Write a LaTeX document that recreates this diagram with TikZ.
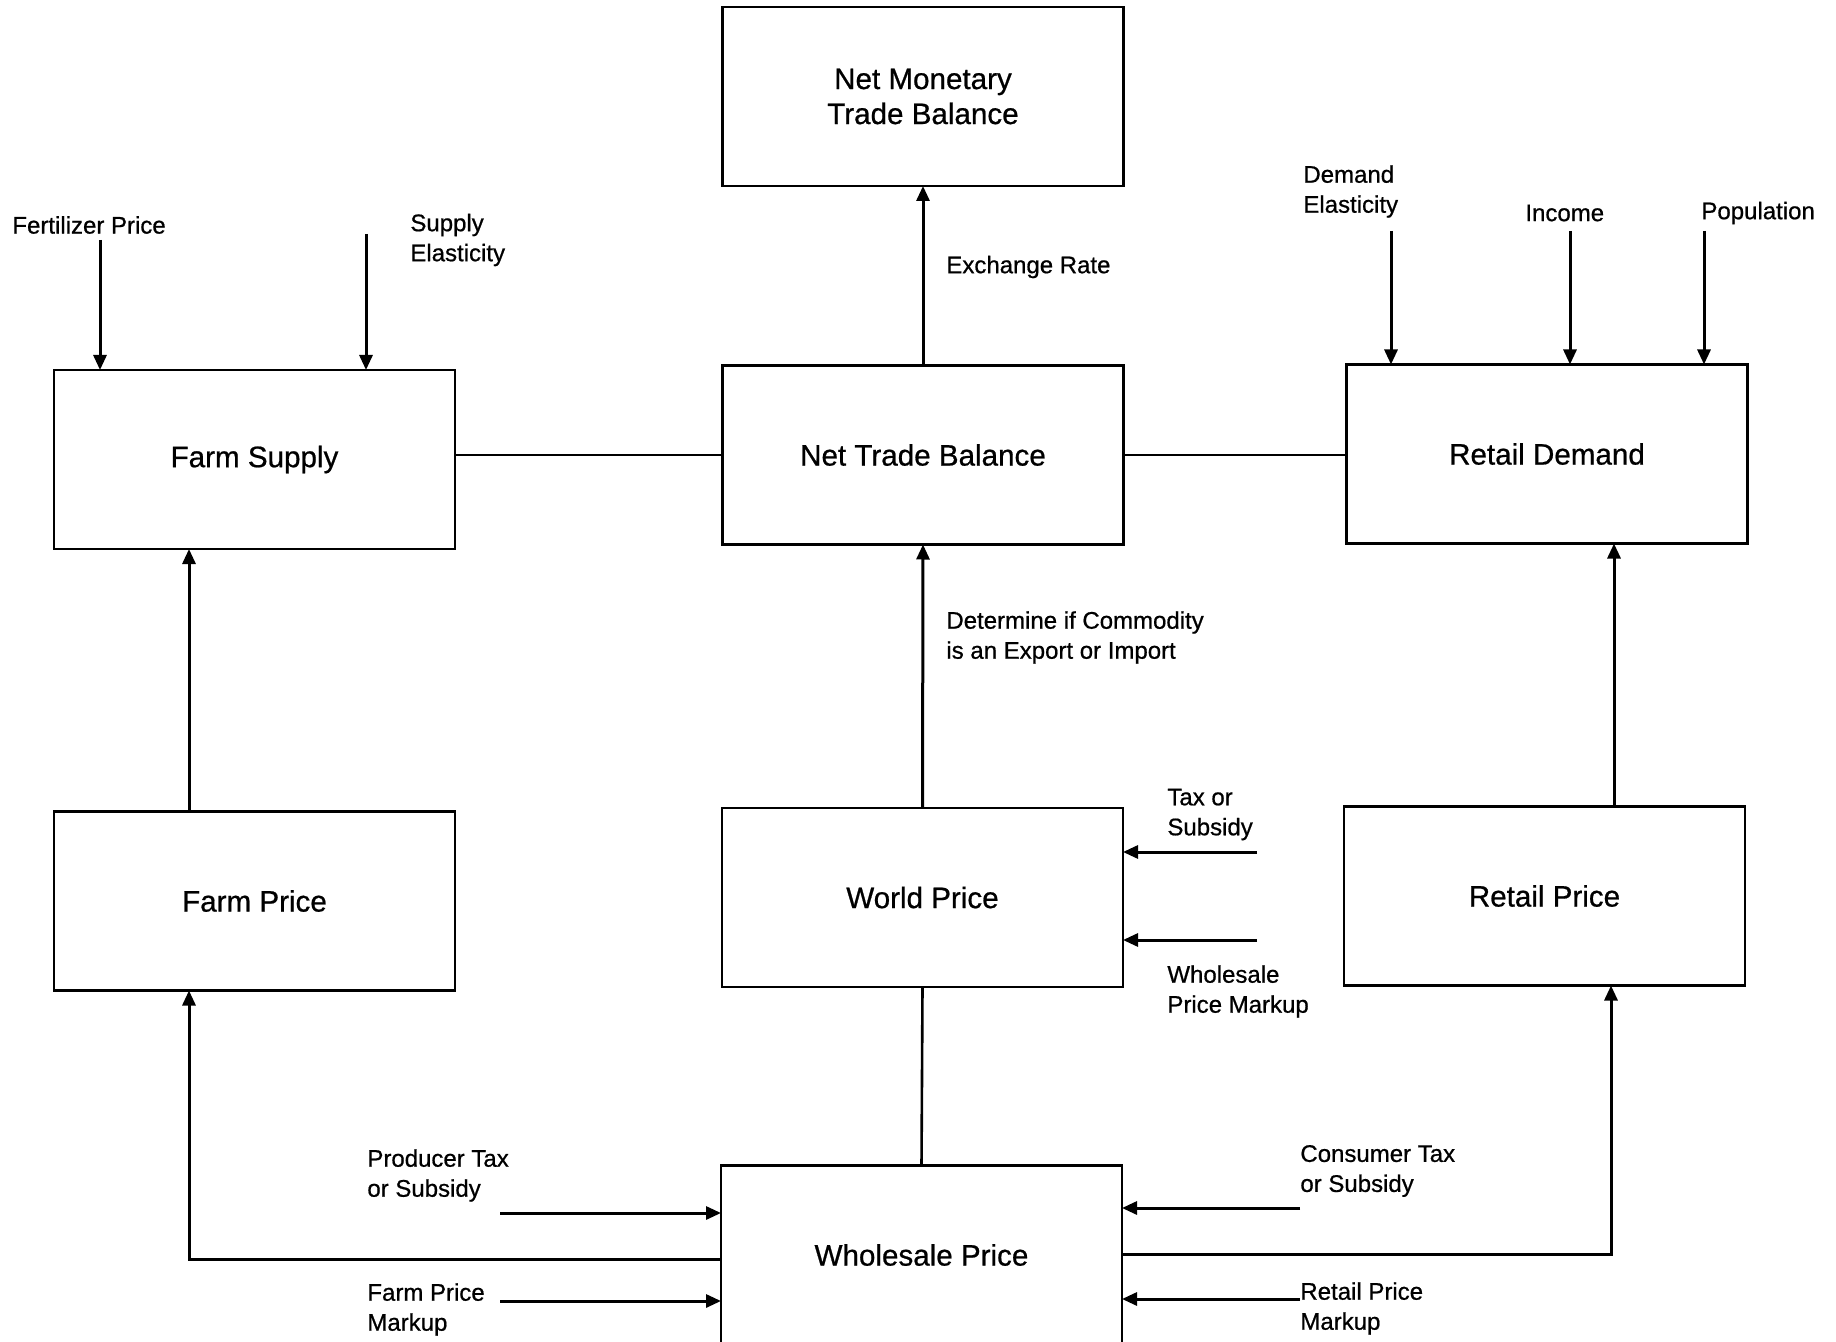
\documentclass[tikz,border=0pt]{standalone}
\usepackage{fontspec}
\setmainfont{Liberation Sans}[FakeBold=0.7]
\usetikzlibrary{arrows.meta}
\begin{document}
\begin{tikzpicture}[x=0.5pt,y=-0.5pt,
  box/.style={draw, line width=1.4pt, minimum width=200.5pt, minimum height=89.5pt, inner sep=0pt, outer sep=0pt, align=center, font=\fontsize{14.8}{17.5}\selectfont},
  lbl/.style={anchor=west, align=left, inner sep=0pt, font=\fontsize{12}{15}\selectfont},
  arr/.style={line width=1.5pt, -{Triangle[length=7.5pt,width=6.5pt]}},
  ln/.style={line width=1.3pt}]
\useasboundingbox (0,0) rectangle (1836,1342);
\fill[white] (0,0) rectangle (1836,1342);

% boxes
\node[box] (netmon)    at (923,96.5)   {Net Monetary\\Trade Balance};
\node[box] (farmsup)   at (254.5,459.5) {Farm Supply};
\node[box] (nettrade)  at (923,455)    {Net Trade Balance};
\node[box] (retdem)    at (1547,454)   {Retail Demand};
\node[box] (farmprice) at (254.5,901)  {Farm Price};
\node[box] (world)     at (922.5,897.5) {World Price};
\node[box] (retprice)  at (1544.5,896) {Retail Price};
\node[box] (whole)     at (921.5,1255) {Wholesale Price};

% labels
\node[lbl] (lfert)  at (12,225)    {Fertilizer Price};
\node[lbl] (lsupel) at (410,240)   {Supply\\Elasticity};
\node[lbl] (lexch)  at (946,267)   {Exchange Rate};
\node[lbl] (ldemel) at (1303,191.5) {Demand\\Elasticity};
\node[lbl] (linc)   at (1525,213)  {Income};
\node[lbl] (lpop)   at (1701,213)  {Population};
\node[lbl] (ldet)   at (946,637.5) {Determine if Commodity\\is an Export or Import};
\node[lbl] (ltax)   at (1167,814.5) {Tax or\\Subsidy};
\node[lbl] (lwpm)   at (1167,991.5) {Wholesale\\Price Markup};
\node[lbl] (lprod)  at (367,1175.5) {Producer Tax\\or Subsidy};
\node[lbl] (lfpm)   at (367,1309.5) {Farm Price\\Markup};
\node[lbl] (lcons)  at (1300,1171)  {Consumer Tax\\or Subsidy};
\node[lbl] (lrpm)   at (1300,1308.5) {Retail Price\\Markup};

% free ends
\coordinate (cfert) at (100,240);
\coordinate (csup)  at (366,234);
\coordinate (cdem)  at (1391,231);
\coordinate (cinc)  at (1570,231);
\coordinate (cpop)  at (1704,231);
\coordinate (cfp)   at (189,0);
\coordinate (crp)   at (1614,0);
\coordinate (ctax)  at (1257,852);
\coordinate (cwpm)  at (1257,940);
\coordinate (cprod) at (500,1213);
\coordinate (cfpm)  at (500,1301);
\coordinate (ccons) at (1300,1208);
\coordinate (crpm)  at (1300,1299);
\coordinate (lcorner) at (189,1259);
\coordinate (rcorner) at (1611,1254);

% connectors
\draw[arr] (cfert) -- (cfert |- farmsup.north);
\draw[arr] (csup) -- (csup |- farmsup.north);
\draw[arr] (cdem) -- (cdem |- retdem.north);
\draw[arr] (cinc) -- (cinc |- retdem.north);
\draw[arr] (cpop) -- (cpop |- retdem.north);
\draw[ln] (nettrade.west -| farmsup.east) -- (nettrade.west);
\draw[ln] (nettrade.east) -- (nettrade.east -| retdem.west);
\draw[arr] (nettrade.north) -- (netmon.south);
\draw[arr] (world.north) -- (nettrade.south);
\draw[arr] (farmprice.north -| cfp) -- (farmsup.south -| cfp);
\draw[arr] (retprice.north -| crp) -- (retdem.south -| crp);
\draw[ln] (whole.north) -- (world.south);
\draw[arr] (ctax) -- (ctax -| world.east);
\draw[arr] (cwpm) -- (cwpm -| world.east);
\draw[arr] (cprod) -- (cprod -| whole.west);
\draw[arr] (cfpm) -- (cfpm -| whole.west);
\draw[arr] (ccons) -- (ccons -| whole.east);
\draw[arr] (crpm) -- (crpm -| whole.east);
\draw[arr] (whole.west |- lcorner) -| (farmprice.south -| lcorner);
\draw[arr] (whole.east |- rcorner) -| (retprice.south -| rcorner);
\end{tikzpicture}
\end{document}
